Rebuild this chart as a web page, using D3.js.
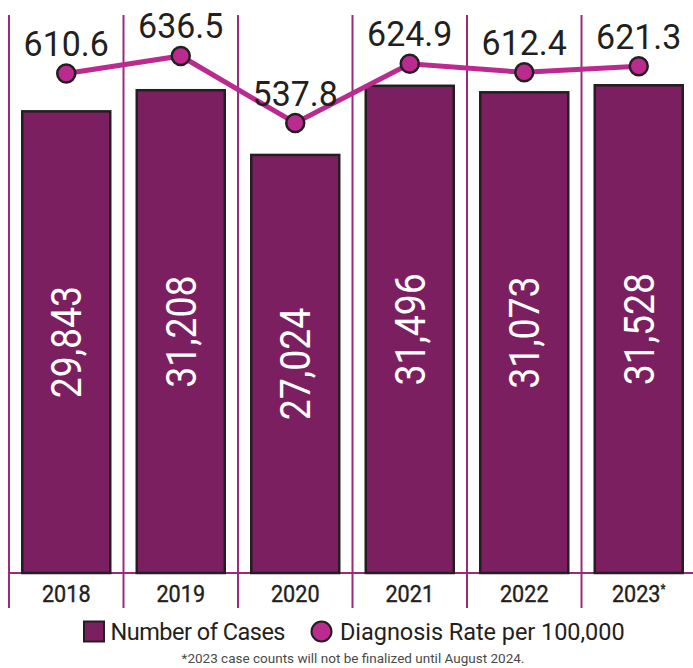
<!DOCTYPE html>
<html>
<head>
<meta charset="utf-8">
<script src="https://cdn.jsdelivr.net/npm/d3@7"></script>
<style>
  html, body { margin: 0; padding: 0; background: #fff; }
  svg { display: block; }
  text { font-family: Roboto, "Noto Sans", sans-serif; }
</style>
</head>
<body>
<svg id="chart" width="693" height="668"></svg>
<script>
// Data
const years = ["2018", "2019", "2020", "2021", "2022", "2023"];
const cases = [29843, 31208, 27024, 31496, 31073, 31528];
const rates = [610.6, 636.5, 537.8, 624.9, 612.4, 621.3];
const yearNotes = ["", "", "", "", "", "*"];
const legendLabels = ["Number of Cases", "Diagnosis Rate per 100,000"];
const footnote = "*2023 case counts will not be finalized until August 2024.";

// Colours
const barFill = "#7b1f60";
const rateColor = "#bb2a8f";
const dividerColor = "#9b2a7f";
const ink = "#231f20";

const svg = d3.select("#chart");

// Scales
const x = d3.scaleBand().domain(years).range([9, 696]);
const yCases = d3.scaleLinear().domain([0, 37040]).range([573, 0]);
const yRate = d3.scaleLinear().domain([500, 650]).range([148.7, 46.8]);
const barW = 88;
const cx = d => x(d) + x.bandwidth() / 2;

// Vertical dividers between year columns
svg.append("g")
  .selectAll("line")
  .data(years)
  .join("line")
  .attr("x1", d => x(d)).attr("x2", d => x(d))
  .attr("y1", 15).attr("y2", 608)
  .attr("stroke", dividerColor)
  .attr("stroke-width", 2);

// Baseline
svg.append("line")
  .attr("x1", x.range()[0]).attr("x2", 693)
  .attr("y1", yCases(0)).attr("y2", yCases(0))
  .attr("stroke", dividerColor)
  .attr("stroke-width", 2);

// Bars for case counts
const bars = years.map((yr, i) => ({ yr, v: cases[i] }));
svg.append("g")
  .selectAll("rect")
  .data(bars)
  .join("rect")
  .attr("x", d => cx(d.yr) - barW / 2)
  .attr("y", d => yCases(d.v))
  .attr("width", barW)
  .attr("height", d => yCases(0) - yCases(d.v))
  .attr("fill", barFill)
  .attr("stroke", ink)
  .attr("stroke-width", 2.5);

// Rotated case counts inside bars
const fmt = d3.format(",");
svg.append("g")
  .selectAll("text")
  .data(bars)
  .join("text")
  .attr("transform", d => `translate(${cx(d.yr)},${(yCases(d.v) + yCases(0)) / 2}) rotate(-90) scale(0.89,1)`)
  .attr("text-anchor", "middle")
  .attr("dy", "0.355em")
  .attr("font-size", 42)
  .attr("fill", "#fff")
  .text(d => fmt(d.v));

// Rate line with markers
const pts = years.map((yr, i) => ({ yr, v: rates[i] }));
svg.append("path")
  .datum(pts)
  .attr("fill", "none")
  .attr("stroke", rateColor)
  .attr("stroke-width", 5)
  .attr("d", d3.line().x(d => cx(d.yr)).y(d => yRate(d.v)));

svg.append("g")
  .selectAll("circle")
  .data(pts)
  .join("circle")
  .attr("cx", d => cx(d.yr))
  .attr("cy", d => yRate(d.v))
  .attr("r", 9)
  .attr("fill", rateColor)
  .attr("stroke", ink)
  .attr("stroke-width", 2.5);

svg.append("g")
  .selectAll("text")
  .data(pts)
  .join("text")
  .attr("x", d => cx(d.yr))
  .attr("y", d => yRate(d.v) - 17.5)
  .attr("text-anchor", "middle")
  .attr("font-size", 35)
  .attr("fill", ink)
  .attr("transform", d => `translate(${cx(d.yr)},0) scale(0.97,1) translate(${-cx(d.yr)},0)`)
  .text(d => d.v.toFixed(1));

// Year labels
const yl = svg.append("g")
  .selectAll("text")
  .data(years.map((yr, i) => ({ yr, note: yearNotes[i] })))
  .join("text")
  .attr("transform", d => `translate(${cx(d.yr)},602) scale(0.9,1)`)
  .attr("text-anchor", "middle")
  .attr("font-size", 24)
  .attr("font-weight", 400)
  .attr("stroke", ink)
  .attr("stroke-width", 0.4)
  .attr("fill", ink);
yl.append("tspan").text(d => d.yr);
yl.append("tspan")
  .attr("font-size", 13)
  .attr("dy", -9)
  .text(d => d.note);

// Legend
const lg = svg.append("g");
lg.append("rect")
  .attr("x", 84).attr("y", 621.5)
  .attr("width", 20).attr("height", 20)
  .attr("fill", barFill)
  .attr("stroke", ink)
  .attr("stroke-width", 2);
lg.append("text")
  .attr("x", 110.5).attr("y", 639.5)
  .attr("font-size", 23.5)
  .attr("letter-spacing", -0.5)
  .attr("fill", ink)
  .text(legendLabels[0]);
lg.append("circle")
  .attr("cx", 321.5).attr("cy", 631.5)
  .attr("r", 10)
  .attr("fill", rateColor)
  .attr("stroke", ink)
  .attr("stroke-width", 2);
lg.append("text")
  .attr("x", 340).attr("y", 639.5)
  .attr("font-size", 23.5)
  .attr("letter-spacing", -0.05)
  .attr("fill", ink)
  .text(legendLabels[1]);

// Footnote
svg.append("text")
  .attr("x", 353).attr("y", 663)
  .attr("text-anchor", "middle")
  .attr("font-size", 13.5)
  .attr("fill", "#4a4a4a")
  .text(footnote);
</script>
</body>
</html>
